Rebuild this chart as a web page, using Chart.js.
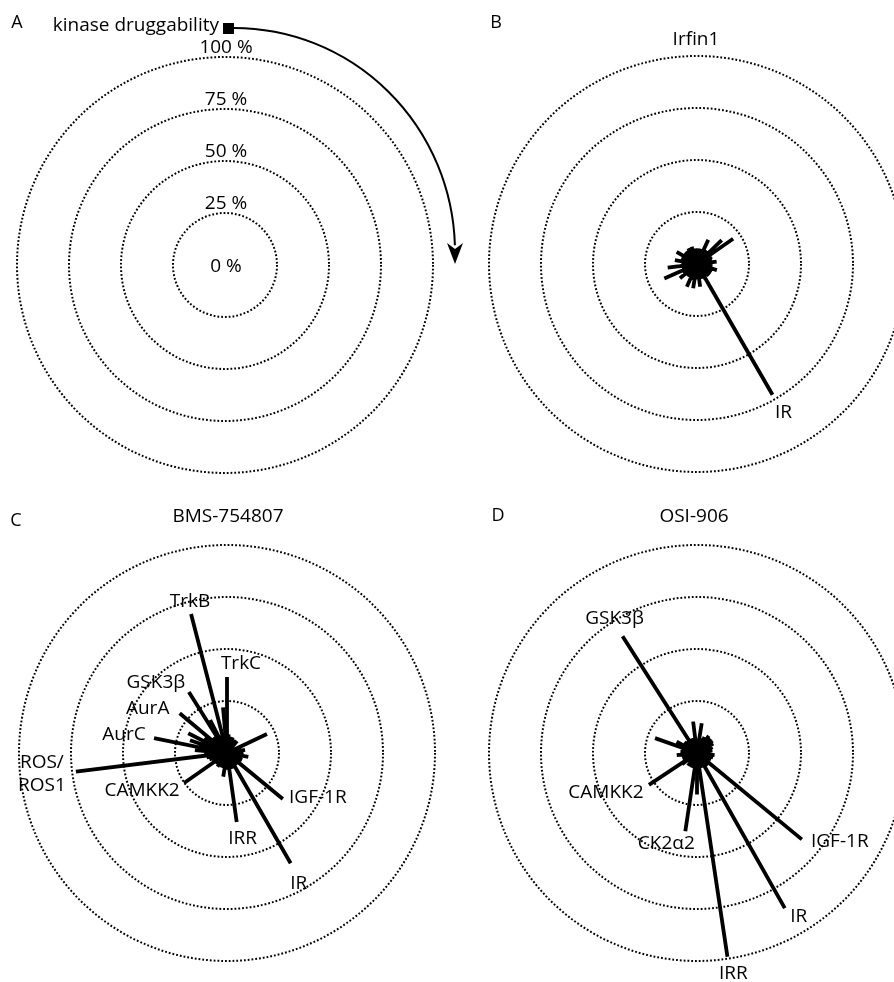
<!DOCTYPE html>
<html>
<head>
<meta charset="utf-8">
<script src="https://cdn.jsdelivr.net/npm/chart.js@4.4.1/dist/chart.umd.min.js"></script>
<style>
    html, body { margin: 0; padding: 0; width: 894px; height: 982px; overflow: hidden; background: #fff; }
    canvas { position: absolute; }
</style>
</head>
<body>
<canvas id="panelA" width="480" height="500" style="left:-15px;top:15px"></canvas>
<canvas id="panelB" width="480" height="500" style="left:457px;top:14px"></canvas>
<canvas id="panelC" width="480" height="500" style="left:-13px;top:503px"></canvas>
<canvas id="panelD" width="480" height="500" style="left:457px;top:503px"></canvas>
<script>
// angles are degrees clockwise from the top, values are % druggability
const ringTicks = [25, 50, 75, 100];
const ringLabels = ['25 %', '50 %', '75 %', '100 %'];

// B - Irfin1
const bNames = ['IR'];
const bAngles = [150.2];
const bValues = [72.6];
const bOtherAngles = [55, 46, 25, 14, 343, 331, 301, 280, 263, 246, 230, 204, 189, 172, 134, 107, 83, 64,
    5, 35, 75, 95, 120, 145, 160, 195, 215, 240, 255, 270, 290, 315, 322, 352, 100, 180, 222, 310];
const bOtherValues = [21.2, 16.5, 12.8, 7.5, 8.7, 8.6, 11.4, 10.8, 14.2, 17.2, 10.7, 12, 11.8, 11, 8, 10, 9.5, 8,
    7.5, 8, 7.5, 7.5, 8, 7.5, 7.5, 8, 7.5, 8, 7.5, 7.5, 8, 7.5, 8, 7.5, 7.5, 7.5, 7.5, 8];

// C - BMS-754807
const cNames = ['TrkB', 'TrkC', 'GSK3β', 'AurA', 'AurC', 'ROS/\nROS1', 'CAMKK2', 'IGF-1R', 'IRR', 'IR'];
const cAngles = [345.5, 0, 328, 310, 281.5, 263, 235, 129.5, 172, 150];
const cValues = [69, 36.5, 34.6, 29.7, 35.8, 73.2, 25.2, 34.8, 33.5, 61.2];
const cOtherAngles = [64.5, 355, 333, 297, 289, 275, 100, 80.5, 189, 10, 20, 40, 115, 140, 160, 200, 215,
    250, 258, 270, 285, 303, 318, 340, 350, 5, 180, 30, 90, 125, 225, 245];
const cOtherValues = [21.3, 22, 17.8, 20.9, 18.8, 15.5, 10.4, 8.8, 11.5, 8, 8, 7.5, 8, 7.5, 8, 7.5, 8,
    9, 10, 11, 14, 13, 10, 9, 10, 9, 8, 7.5, 8, 7.5, 7.5, 8];

// D - OSI-906
const dNames = ['GSK3β', 'CAMKK2', 'CK2α2', 'IGF-1R', 'IR', 'IRR'];
const dAngles = [327.5, 236.5, 188.5, 129.5, 150.5, 171.5];
const dValues = [66.6, 27.7, 38, 65.3, 85.7, 99];
const dOtherAngles = [289.5, 353, 9, 299, 34.5, 52, 97, 264, 233, 180, 15, 25, 60, 70, 80, 115, 140, 160,
    200, 215, 250, 275, 310, 320, 340, 45, 105, 245];
const dOtherValues = [21.4, 15.2, 14.5, 11.2, 10, 9.5, 8.5, 9.8, 9, 20, 7.5, 8.5, 9, 8, 7.5, 7.5, 8, 7.5,
    7.5, 7.5, 7.5, 8, 8, 7.5, 7.5, 9.5, 8, 7.5];

// quarter degree slots round the circle
const SLOTS = 1440;
const slotLabels = new Array(SLOTS).fill('');

function slotFor(angle) {
    return (Math.round(angle * 2) * 2) % SLOTS;
}

// every spoke is a tip followed by a zero, so the line goes out and back to the centre
function spokeDataset(angles, values) {
    const data = new Array(SLOTS).fill(null);
    angles.forEach((a, i) => {
        const idx = slotFor(a);
        data[idx] = values[i];
        data[idx + 1] = 0;
    });
    return {
        data: data,
        borderColor: '#000',
        borderWidth: 3.8,
        borderCapStyle: 'butt',
        borderJoinStyle: 'miter',
        fill: false,
        spanGaps: true,
        tension: 0,
        pointRadius: 0,
        pointHoverRadius: 0
    };
}

const FONT = '"Open Sans", sans-serif';

// text, label and arrow layout for each panel (offsets in px from centre / spoke tip)
const layoutA = { letter: 'A', letterAt: [-208, -242], rings: true, arrow: true };
const layoutB = { letter: 'B', letterAt: [-201, -241], title: 'Irfin1', titleAt: [-1, -224],
    names: bNames, angles: bAngles, values: bValues, shift: [[11, 19]] };
const layoutC = { letter: 'C', letterAt: [-211, -232], title: 'BMS-754807', titleAt: [1, -236],
    names: cNames, angles: cAngles, values: cValues,
    shift: [[-1, -11], [14, -12], [-33, -8], [-32, -4], [-30, -3], [-34, 4], [-42, 9], [35, 0], [6, 18], [8, 21]] };
const layoutD = { letter: 'D', letterAt: [-199, -237], title: 'OSI-906', titleAt: [-3, -236],
    names: dNames, angles: dAngles, values: dValues,
    shift: [[-8, -17], [-43, 9], [-19, 13], [38, 3], [14, 9], [6, 18]] };

function panelTextPlugin(layout) {
    return {
        id: 'panelText',
        afterDraw(chart) {
            const ctx = chart.ctx;
            const r = chart.scales.r;
            const cx = r.xCenter;
            const cy = r.yCenter;
            ctx.save();
            ctx.fillStyle = '#000';
            ctx.textAlign = 'center';
            ctx.textBaseline = 'middle';

            ctx.font = '18px ' + FONT;
            ctx.fillText(layout.letter, cx + layout.letterAt[0], cy + layout.letterAt[1]);

            ctx.font = '19px ' + FONT;
            if (layout.title) {
                ctx.fillText(layout.title, cx + layout.titleAt[0], cy + layout.titleAt[1]);
            }

            if (layout.rings) {
                ctx.textBaseline = 'alphabetic';
                ctx.fillText('0 %', cx + 1, cy + 7);
                ringTicks.forEach((v, i) => {
                    const d = r.getDistanceFromCenterForValue(v);
                    ctx.fillText(ringLabels[i], cx + 1, cy - d - 4);
                });
                ctx.textAlign = 'right';
                ctx.fillText('kinase druggability', cx - 6, cy - 234);
                ctx.textBaseline = 'middle';
                ctx.textAlign = 'center';
            }

            if (layout.arrow) {
                // small square where the circle starts, then the clockwise arrow
                ctx.fillRect(cx - 2, cy - 242, 11, 11);
                ctx.strokeStyle = '#000';
                ctx.lineWidth = 2;
                ctx.beginPath();
                ctx.ellipse(cx + 9, cy - 13, 221, 224, 0, -Math.PI / 2, -0.03);
                ctx.stroke();
                ctx.beginPath();
                ctx.moveTo(cx + 230, cy - 1);
                ctx.lineTo(cx + 222, cy - 22);
                ctx.lineTo(cx + 230, cy - 16);
                ctx.lineTo(cx + 238, cy - 22);
                ctx.closePath();
                ctx.fill();
            }

            (layout.names || []).forEach((name, i) => {
                const tip = r.getPointPositionForValue(slotFor(layout.angles[i]), layout.values[i]);
                const lines = name.split('\n');
                const x = tip.x + layout.shift[i][0];
                const y0 = tip.y + layout.shift[i][1] - (lines.length - 1) * 11.5;
                lines.forEach((line, j) => {
                    ctx.fillText(line, x, y0 + j * 23 - 1);
                });
            });
            ctx.restore();
        }
    };
}

function makePanel(canvasId, datasets, layout) {
    return new Chart(document.getElementById(canvasId), {
        type: 'radar',
        data: { labels: slotLabels, datasets: datasets },
        options: {
            responsive: false,
            animation: false,
            events: [],
            layout: { padding: { left: 32, right: 32, top: 42, bottom: 42 } },
            plugins: { legend: { display: false }, tooltip: { enabled: false } },
            scales: {
                r: {
                    min: 0,
                    max: 100,
                    ticks: { display: false, stepSize: 25 },
                    pointLabels: { display: false },
                    angleLines: { display: false },
                    grid: { circular: true, color: '#000', lineWidth: 2 },
                    border: { dash: [1.8, 2] }
                }
            }
        },
        plugins: [panelTextPlugin(layout)]
    });
}

makePanel('panelA', [], layoutA);
makePanel('panelB', [spokeDataset(bAngles, bValues), spokeDataset(bOtherAngles, bOtherValues)], layoutB);
makePanel('panelC', [spokeDataset(cAngles, cValues), spokeDataset(cOtherAngles, cOtherValues)], layoutC);
makePanel('panelD', [spokeDataset(dAngles, dValues), spokeDataset(dOtherAngles, dOtherValues)], layoutD);
</script>
</body>
</html>
